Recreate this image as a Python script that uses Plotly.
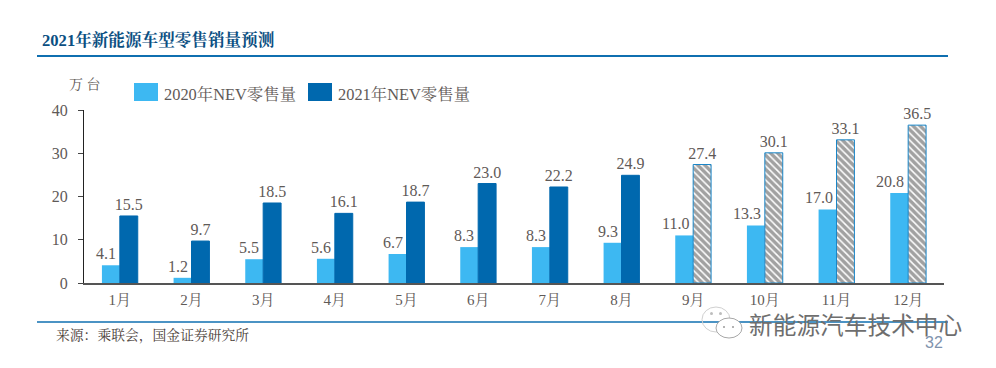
import plotly.graph_objects as go

months = ["1月","2月","3月","4月","5月","6月","7月","8月","9月","10月","11月","12月"]
sales_2020 = [4.1,1.2,5.5,5.6,6.7,8.3,8.3,9.3,11.0,13.3,17.0,20.8]
sales_2021 = [15.5,9.7,18.5,16.1,18.7,23.0,22.2,24.9,27.4,30.1,33.1,36.5]
is_forecast = [False]*8 + [True]*4
y_ticks = [0,10,20,30,40]
series_names = ["2020年NEV零售量", "2021年NEV零售量"]

SERIF = "Liberation Serif, Noto Serif CJK SC, Noto Sans CJK SC, serif"
TXT = "#5f5a58"
C20 = "#3db8f2"
C21 = "#0068ae"
RULE = "#0f6fb0"

# The page has an 8px body margin, so the figure sits 8px in from the window's corner.
OFF = 8
L, R, T, B = 84, 944, 110, 283
px = lambda v: (v - L) / (R - L)
py = lambda v: (B - v) / (B - T)

fig = go.Figure()
fig.add_bar(name=series_names[0], x=months, y=sales_2020,
            marker=dict(color=C20, line=dict(width=0)))
fig.add_bar(name=series_names[1], x=months, y=sales_2021,
            marker=dict(
                color=["#ffffff" if f else C21 for f in is_forecast],
                line=dict(color=["#1a86c8" if f else C21 for f in is_forecast], width=1),
                pattern=dict(shape=["\\" if f else "" for f in is_forecast],
                             fgcolor="#000000", bgcolor="#ffffff", size=5, solidity=0.7)),
            text=[f"{v:.1f}" for v in sales_2021], textposition="outside",
            constraintext="none",
            textfont=dict(family=SERIF, size=16, color=TXT), cliponaxis=False)

# 2020 labels sit left of their bars, clear of the neighbouring 2021 bar
for m, v in zip(months, sales_2020):
    fig.add_annotation(x=m, y=v, text=f"{v:.1f}", showarrow=False, yanchor="bottom",
                       xshift=-18 if v >= 10 else -14, yshift=1,
                       font=dict(family=SERIF, size=16, color=TXT))

def note(x, y, text, size, color=TXT, family=SERIF, anchor="left"):
    fig.add_annotation(xref="paper", yref="paper", x=px(x), y=py(y), text=text, showarrow=False,
                       xanchor=anchor, yanchor="middle", borderpad=0,
                       font=dict(family=family, size=size, color=color))

note(41, 40, "<b>2021年新能源车型零售销量预测</b>", 16.6, color="#0b4f82")
note(68, 84, "万 台", 14)
note(163, 94, series_names[0], 16.4)
note(337, 94, series_names[1], 16.4)
note(55, 335, "来源：乘联会，国金证券研究所", 13.8, color="#4a4038")
note(748, 324, "新能源汽车技术中心", 23.7, color="#6e6e6e", family="Noto Sans CJK SC")
note(934, 342, "32", 16, color="#7f93ad", family="Liberation Sans", anchor="center")

def box(kind, x0, x1, y0, y1, **kw):
    return dict(type=kind, xref="paper", yref="paper", x0=px(x0), x1=px(x1),
                y0=py(y0), y1=py(y1), **kw)

shapes = [
    box("line", 37, 948, 56, 56, line=dict(color=RULE, width=2)),
    box("line", 37, 948, 322, 322, line=dict(color=RULE, width=1.5)),
    box("rect", 134, 158, 83, 101, fillcolor=C20, line=dict(width=0)),
    box("rect", 308, 332, 83, 101, fillcolor=C21, line=dict(width=0)),
    box("circle", 702, 730, 307, 332, line=dict(color="#d0d0d0", width=1)),
    box("circle", 716, 742, 318, 338, fillcolor="#ffffff", line=dict(color="#a8a8a8", width=1)),
    box("circle", 710, 713, 312, 315, fillcolor="#bdbdbd", line=dict(width=0)),
    box("circle", 719, 722, 312, 315, fillcolor="#bdbdbd", line=dict(width=0)),
    box("circle", 723, 725, 326, 328, fillcolor="#9a9a9a", line=dict(width=0)),
    box("circle", 732, 734, 326, 328, fillcolor="#9a9a9a", line=dict(width=0)),
]

fig.update_layout(
    width=996-OFF, height=368-OFF, autosize=False,
    margin=dict(l=L-OFF, r=996-R, t=T-OFF, b=368-B, pad=0),
    paper_bgcolor="#ffffff", plot_bgcolor="#ffffff",
    barmode="group", bargap=0.5, bargroupgap=0,
    showlegend=False,
    font=dict(family=SERIF, color=TXT),
    shapes=shapes,
    xaxis=dict(type="category", showline=True, linecolor="#555555", linewidth=1.5,
               ticks="", showgrid=False, zeroline=False, ticklabelstandoff=2,
               tickfont=dict(family=SERIF, size=15, color=TXT)),
    yaxis=dict(range=[0,40], tickvals=y_ticks, showline=True, linecolor="#222222", linewidth=1,
               ticks="outside", ticklen=5, tickcolor="#444444", showgrid=False, zeroline=False,
               ticklabelstandoff=7,
               tickfont=dict(family=SERIF, size=16, color=TXT)),
)
fig.write_html("out.html")
